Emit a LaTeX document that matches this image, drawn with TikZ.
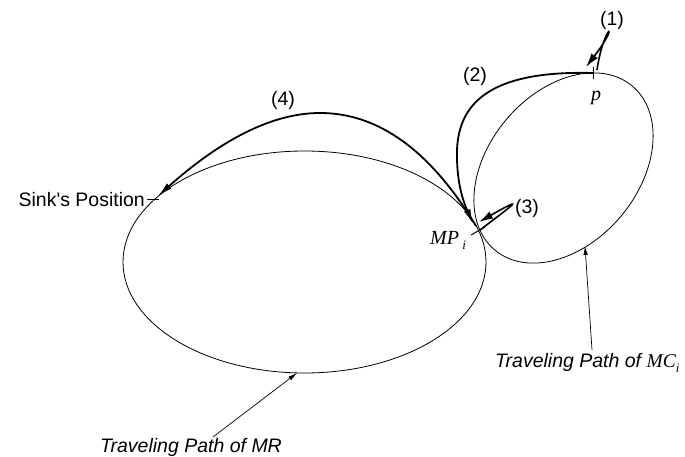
\documentclass[tikz,border=0pt]{standalone}
\usepackage{fontspec}
\setmainfont{Liberation Sans}
\newfontfamily\tms{Liberation Serif}
\usetikzlibrary{arrows.meta}
\begin{document}
\begin{tikzpicture}[x=1pt,y=-1pt,
  orbit/.style={line width=0.8pt},
  move/.style={line width=1.8pt,-{Latex[length=15pt,width=7pt]}},
  loopmove/.style={line width=1.6pt,-{Latex[length=14pt,width=8pt]}},
  pointer/.style={line width=0.7pt,-{Latex[length=9pt,width=4.5pt]}},
  tickmark/.style={line width=1pt},
  lbl/.style={inner sep=0pt,font=\fontsize{19.5}{22}\selectfont},
  ilbl/.style={inner sep=0pt,font=\fontsize{19.5}{22}\selectfont\itshape},
  slbl/.style={inner sep=0pt,font=\fontsize{20}{22}\selectfont\tms\itshape}]
\useasboundingbox (0,0) rectangle (685,457);
% orbits
\coordinate (cL) at (304.5,262);
\coordinate (cR) at (563.5,168);
\draw[orbit] (cL) ellipse [x radius=181.5, y radius=111];
\draw[orbit, rotate around={50:(cR)}] (cR) ellipse [x radius=107, y radius=75];
% key points
\coordinate (P) at (593,73);
\coordinate (MP) at (478,231);
\coordinate (SINK) at (153,200);
\coordinate (Ptop) at (593,67);
\coordinate (Pbot) at (593,79);
\coordinate (SINKl) at (147,200);
\coordinate (SINKr) at (159,200);
\coordinate (MPa) at (471,235);
\coordinate (MPb) at (485,227);
\draw[tickmark] (Ptop) -- (Pbot);
\draw[tickmark] (SINKl) -- (SINKr);
\draw[tickmark] (MPa) -- (MPb);
% moves
\coordinate (MParr) at (473,224);
\coordinate (MPstart) at (476,226);
\coordinate (SINKarr) at (158,196);
\coordinate (L1s) at (597,70);
\coordinate (L1e) at (586,67);
\coordinate (L3s) at (480,230);
\coordinate (L3e) at (479,222);
\draw[move] (P) .. controls (480,70) and (455,110) .. (457,160) .. controls (458,190) and (465,205) .. (MParr);
\draw[move] (MPstart) .. controls (445,175) and (395,113) .. (320,113) .. controls (268,113) and (215,145) .. (SINKarr);
\draw[loopmove] (L1s) .. controls (604,22) and (622,20) .. (L1e);
\draw[loopmove] (L3s) .. controls (510,207) and (530,193) .. (L3e);
% labels
\node[lbl,anchor=east] (sinkl) at (145,200) {Sink\textquotesingle s Position};
\node[lbl] (l4) at (283,100) {(4)};
\node[lbl] (l2) at (475,76) {(2)};
\node[lbl] (l1) at (612,20) {(1)};
\node[lbl] (l3) at (527,208) {(3)};
\node[slbl] (pl) at (596,98) {p};
\node[slbl] (mpl) at (448,240) {MP\,\raisebox{-5pt}{\fontsize{13}{13}\selectfont i}};
\node[ilbl] (mrl) at (191,447) {Traveling Path of MR};
\node[ilbl,anchor=west] (mcl) at (495,363) {Traveling Path of {\tms MC\raisebox{-5pt}{\fontsize{13}{13}\selectfont i}}};
% pointers
\coordinate (mrS) at (213,437);
\coordinate (mrE) at (297,373);
\coordinate (mcS) at (592,350);
\coordinate (mcE) at (585,246);
\draw[pointer] (mrS) -- (mrE);
\draw[pointer] (mcS) -- (mcE);
\end{tikzpicture}
\end{document}
